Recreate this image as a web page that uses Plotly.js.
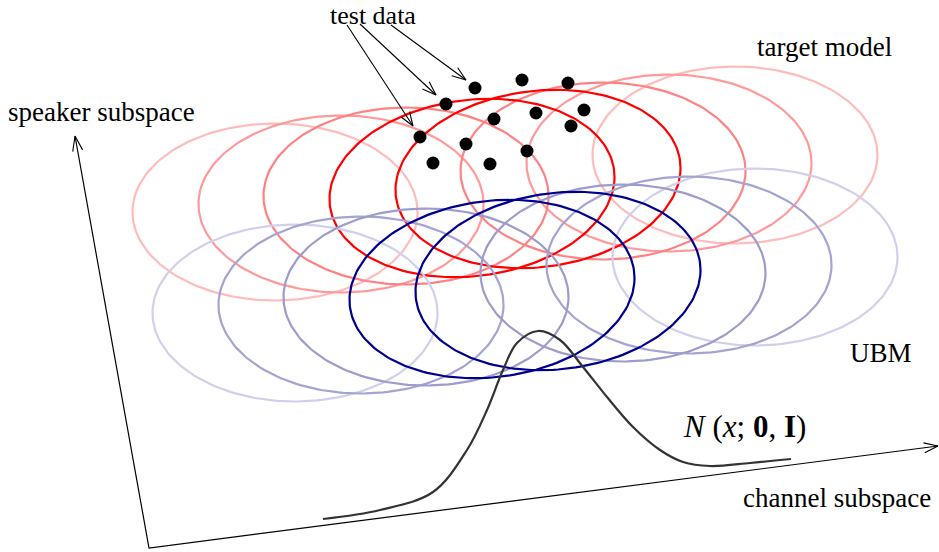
<!DOCTYPE html>
<html><head><meta charset="utf-8">
<script src="https://cdn.plot.ly/plotly-3.0.1.min.js"></script>
<style>html,body{margin:0;padding:0;background:#fff;}#chart{width:939px;height:552px;}</style>
</head><body><div id="chart"></div>
<script>
// ---- data (diagram canvas units) ----
const redCenterX  = [275, 341, 406, 472, 538, 603, 669, 735];
const redCenterY  = [212, 204, 196, 188, 179, 171, 163, 155];
const blueCenterX = [295, 361, 426, 492, 558, 623, 689, 755];
const blueCenterY = [313, 305, 297, 289, 281, 273, 265, 257];
const ellipseTilt = [0, 0, 0, 11, 11, 0, 0, 0];
const ellipseHalfWidth = 142.5;
const ellipseHalfHeight = 88.5;

const testX = [475, 522, 568, 446, 494, 536, 584, 571, 420, 466, 527, 433, 490];
const testY = [ 88,  80,  83, 104, 119, 113, 110, 126, 137, 144, 151, 163, 164];

const curveX = [323, 380, 433, 467, 487, 503, 517, 538, 560, 583, 607, 633, 660, 683, 710, 750, 791];
const curveY = [519, 510, 492, 450, 410, 370, 343, 331, 340, 367, 397, 427, 450, 462, 466, 463, 459];

const arrowFromX = [347, 360, 391];
const arrowFromY = [ 25,  24,  25];
const arrowToX   = [413, 436, 466];
const arrowToY   = [126,  95,  80];

const axisOrigin = [149, 548];
const speakerTip = [75, 136];
const channelTip = [938, 446];

// ---- styles ----
const redColors  = ['#ffbcbc','#ff9a9a','#ff8282','#ff0000','#ff0000','#ff8282','#ff9a9a','#ffbcbc'];
const blueColors = ['#d0d0ec','#a4a4d3','#9c9ccd','#00008f','#00008f','#9c9ccd','#a4a4d3','#d0d0ec'];
const serif = 'Liberation Serif, Times New Roman, serif';

function ellipse(cx, cy, tilt, color) {
  const xs = [], ys = [];
  for (let i = 0; i <= 200; i++) {
    const t = 2 * Math.PI * i / 200;
    xs.push(cx + ellipseHalfWidth * Math.cos(t));
    ys.push(cy - tilt * Math.cos(t) - ellipseHalfHeight * Math.sin(t));
  }
  return {x: xs, y: ys, mode: 'lines', line: {color: color, width: 2.2}, hoverinfo: 'skip', type: 'scatter'};
}
function arrowHead(fx, fy, tx, ty, L, W) {
  const dx = tx - fx, dy = ty - fy, len = Math.hypot(dx, dy);
  const ux = dx / len, uy = dy / len, px = -uy, py = ux;
  return {
    x: [tx - L*ux + W*px, tx, tx - L*ux - W*px],
    y: [ty - L*uy + W*py, ty, ty - L*uy - W*py],
    mode: 'lines', line: {color: '#000', width: 1.1}, hoverinfo: 'skip', type: 'scatter'
  };
}
const traces = [];
// axes
traces.push({x: [speakerTip[0], axisOrigin[0], channelTip[0]], y: [speakerTip[1], axisOrigin[1], channelTip[1]],
  mode: 'lines', line: {color: '#000', width: 1.2}, hoverinfo: 'skip', type: 'scatter'});
traces.push(arrowHead(axisOrigin[0], axisOrigin[1], speakerTip[0], speakerTip[1], 15, 5));
traces.push(arrowHead(axisOrigin[0], axisOrigin[1], channelTip[0], channelTip[1], 14, 5));
// ellipses: light first, bright last
const order = [0, 7, 1, 6, 2, 5, 3, 4];
order.forEach(i => traces.push(ellipse(redCenterX[i], redCenterY[i], ellipseTilt[i], redColors[i])));
order.forEach(i => traces.push(ellipse(blueCenterX[i], blueCenterY[i], ellipseTilt[i], blueColors[i])));
// gaussian
traces.push({x: curveX, y: curveY, mode: 'lines', line: {color: '#333', width: 2.2, shape: 'spline', smoothing: 1},
  hoverinfo: 'skip', type: 'scatter'});
// test data
traces.push({x: testX, y: testY, mode: 'markers', marker: {color: '#000', size: 13}, hoverinfo: 'skip', type: 'scatter'});
// pointer arrows
for (let i = 0; i < arrowFromX.length; i++) {
  traces.push({x: [arrowFromX[i], arrowToX[i]], y: [arrowFromY[i], arrowToY[i]], mode: 'lines',
    line: {color: '#000', width: 1.1}, hoverinfo: 'skip', type: 'scatter'});
  traces.push(arrowHead(arrowFromX[i], arrowFromY[i], arrowToX[i], arrowToY[i], 14, 5));
}
function label(text, x, y, size, yanchor) {
  return {text: text, x: x, y: y, xref: 'x', yref: 'y', showarrow: false, xanchor: 'center', yanchor: yanchor || 'middle',
    borderpad: 0, font: {family: serif, size: size || 27, color: '#000'}};
}
const layout = {
  width: 939, height: 552, margin: {l: 0, r: 0, t: 0, b: 0},
  paper_bgcolor: '#fff', plot_bgcolor: '#fff', showlegend: false,
  xaxis: {range: [0, 939], visible: false, fixedrange: true},
  yaxis: {range: [552, 0], visible: false, fixedrange: true},
  annotations: [
    label('test data', 373, 0, 26, 'top'),
    label('speaker subspace', 101, 112),
    label('target model', 824, 47),
    label('UBM', 881, 353),
    label('channel subspace', 837, 498),
    label('<i>N</i> (<i>x</i>; <b>0</b>, <b>I</b>)', 744, 426, 31)
  ]
};
Plotly.newPlot('chart', traces, layout, {displayModeBar: false, staticPlot: true});
</script></body></html>
